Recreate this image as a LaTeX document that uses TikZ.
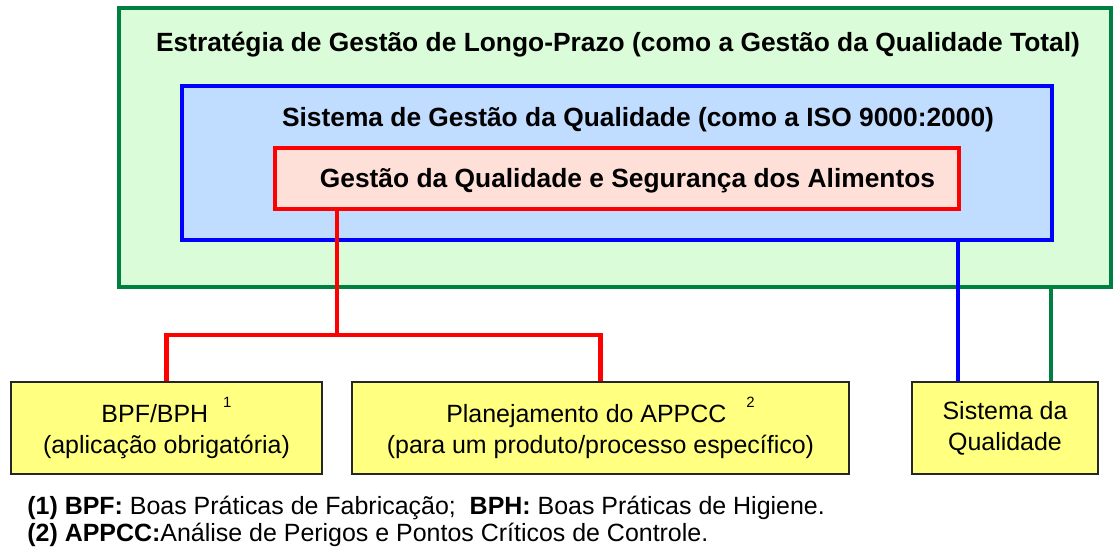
\documentclass[tikz,border=0pt]{standalone}
\usepackage{fontspec}
\setmainfont{Liberation Sans}
\usepackage{tikz}
\usetikzlibrary{positioning}

\definecolor{verdeborda}{RGB}{0,128,64}
\definecolor{verdefundo}{RGB}{218,252,216}
\definecolor{azulfundo}{RGB}{192,220,255}
\definecolor{rosafundo}{RGB}{255,224,216}
\definecolor{amarelo}{RGB}{255,255,128}

\begin{document}
\begin{tikzpicture}[
  caixa/.style={draw, rectangle, inner sep=0pt, line width=2.3pt},
  titulo/.style={font=\fontsize{15}{18}\selectfont\bfseries},
  folha/.style={draw=black!85, fill=amarelo, line width=1pt, inner sep=0pt, align=center, font=\fontsize{14.2}{17.6}\selectfont},
  nota/.style={anchor=base west, inner sep=0pt, font=\fontsize{14.2}{17}\selectfont},
  ligacao/.style={line width=2.3pt}
]
  \useasboundingbox (0,0) rectangle (22.26,11.02);

  % Caixas aninhadas
  \node[caixa, draw=verdeborda, fill=verdefundo, minimum width=19.84cm, minimum height=5.58cm] (estrategia) at (12.30,8.07) {};
  \node[caixa, draw=blue, fill=azulfundo, minimum width=17.40cm, minimum height=3.08cm] (sgq) at (12.34,7.76) {};
  \node[caixa, draw=red, fill=rosafundo, minimum width=13.68cm, minimum height=1.22cm] (gqsa) at (12.34,7.45) {};

  % Textos das caixas
  \node[titulo] (tit1) at (12.36,10.12) {Estratégia de Gestão de Longo-Prazo (como a Gestão da Qualidade Total)};
  \node[titulo] (tit2) at (12.76,8.62) {Sistema de Gestão da Qualidade (como a ISO 9000:2000)};
  \node[titulo] (tit3) at (12.55,7.40) {Gestão da Qualidade e Segurança dos Alimentos};

  % Ligações
  \coordinate (desvio) at (6.74,4.32);
  \coordinate (ramoazul) at (19.16,0);
  \coordinate (ramoverde) at (21.02,0);

  % Caixas amarelas
  \node[folha, minimum width=6.22cm, minimum height=1.84cm] (bpf) at (3.33,2.46)
    {BPF/BPH\hspace{0.6em}\raisebox{0.6em}{\fontsize{8.5}{9}\selectfont 1}\\(aplicação obrigatória)};
  \node[folha, minimum width=9.94cm, minimum height=1.84cm] (appcc) at (12.01,2.46)
    {Planejamento do APPCC\hspace{0.8em}\raisebox{0.6em}{\fontsize{8.5}{9}\selectfont 2}\\(para um produto/processo específico)};
  \node[folha, minimum width=3.72cm, minimum height=1.84cm] (sq) at (20.10,2.46)
    {Sistema da\\Qualidade};

  \draw[ligacao, red] (gqsa.south -| desvio) -- (desvio);
  \draw[ligacao, red] (bpf.north) |- (desvio) -| (appcc.north);
  \draw[ligacao, blue] (sgq.south -| ramoazul) -- (sq.north -| ramoazul);
  \draw[ligacao, verdeborda] (estrategia.south -| ramoverde) -- (sq.north -| ramoverde);

  % Notas
  \node[nota] (nota1) at (0.54,0.74) {\textbf{(1) BPF:} Boas Práticas de Fabricação; \ \textbf{BPH:} Boas Práticas de Higiene.};
  \node[nota] (nota2) at (0.54,0.20) {\textbf{(2) APPCC:}Análise de Perigos e Pontos Críticos de Controle.};
\end{tikzpicture}
\end{document}
